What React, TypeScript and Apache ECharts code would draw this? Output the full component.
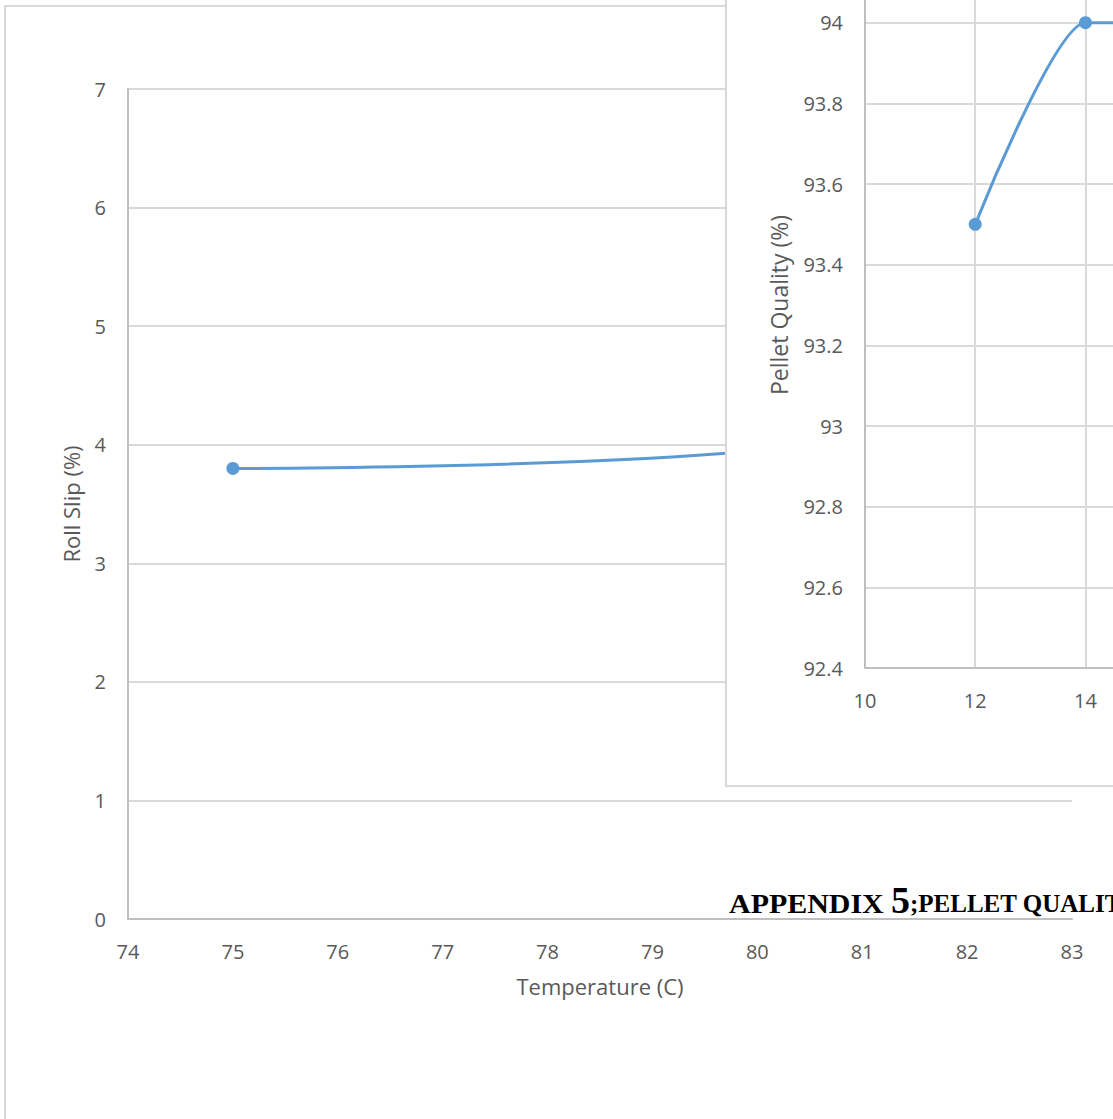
import React, { useEffect, useRef } from "react";
import * as echarts from "echarts";

// Main chart: Roll Slip vs Temperature
const tempTicks = [74, 75, 76, 77, 78, 79, 80, 81, 82, 83];
const rollSlipX = [75, 80, 82];
const rollSlipY = [3.8, 3.95, 5.0];

// Inset chart: Pellet Quality (only the part up to x≈14.5 is in view)
const pqX = [12, 14, 16, 18];
const pqY = [93.5, 94.0, 94.0, 93.7];

const FONT = "'Open Sans', sans-serif";
const SERIF = "'Liberation Serif', serif";
const LABEL = "#595959";
const GRID = "#d9d9d9";
const AXIS = "#bfbfbf";
const BLUE = "#5b9bd5";

// the canvas is larger than the viewport and shifted, so the inset can run off the top edge
const OFF = 100;

export default function App() {
  const ref = useRef<HTMLDivElement>(null);
  useEffect(() => {
    if (!ref.current) return;
    const chart = echarts.init(ref.current, undefined, { renderer: "svg" });
    const fmt = (v: number) => String(Number(v.toFixed(1)));
    chart.setOption({
      animation: false,
      backgroundColor: "#ffffff",
      grid: [
        { left: 128, top: 89 + OFF, width: 944, height: 830 },
        { left: 865, top: -58 + OFF, width: 250, height: 726 },
      ],
      xAxis: [
        {
          type: "value",
          gridIndex: 0,
          min: tempTicks[0],
          max: tempTicks[tempTicks.length - 1],
          interval: 1,
          name: "Temperature (C)",
          nameLocation: "middle",
          nameGap: 56,
          nameTextStyle: { fontFamily: FONT, fontSize: 22, color: LABEL },
          axisLine: { show: true, lineStyle: { color: AXIS, width: 2 } },
          axisTick: { show: false },
          axisLabel: { fontFamily: FONT, fontSize: 20, color: LABEL, margin: 22 },
          splitLine: { show: false },
          z: 1,
        },
        {
          type: "value",
          gridIndex: 1,
          min: 10,
          max: 14.5,
          interval: 2,
          axisLine: { show: true, lineStyle: { color: AXIS, width: 2 } },
          axisTick: { show: false },
          axisLabel: {
            fontFamily: FONT,
            fontSize: 20,
            color: LABEL,
            margin: 22,
            showMaxLabel: false,
          },
          splitLine: { show: true, showMaxLine: false, lineStyle: { color: GRID, width: 2 } },
          z: 6,
        },
      ],
      yAxis: [
        {
          type: "value",
          gridIndex: 0,
          min: 0,
          max: 7,
          interval: 1,
          name: "Roll Slip (%)",
          nameLocation: "middle",
          nameGap: 46,
          nameTextStyle: { fontFamily: FONT, fontSize: 22, color: LABEL },
          axisLine: { show: true, lineStyle: { color: AXIS, width: 2 } },
          axisTick: { show: false },
          axisLabel: { fontFamily: FONT, fontSize: 20, color: LABEL, margin: 22 },
          splitLine: { show: true, lineStyle: { color: GRID, width: 2 } },
          z: 1,
        },
        {
          type: "value",
          gridIndex: 1,
          min: 92.4,
          max: 94.2,
          interval: 0.2,
          name: "Pellet Quality (%)",
          nameLocation: "middle",
          nameGap: 75,
          nameTextStyle: { fontFamily: FONT, fontSize: 23, color: LABEL },
          axisLine: { show: true, lineStyle: { color: AXIS, width: 2 } },
          axisTick: { show: false },
          axisLabel: {
            fontFamily: FONT,
            fontSize: 20,
            color: LABEL,
            margin: 22,
            formatter: fmt,
            showMaxLabel: false,
          },
          splitLine: { show: true, lineStyle: { color: GRID, width: 2 } },
          z: 6,
        },
      ],
      graphic: [
        {
          type: "rect",
          z: 0,
          shape: { x: 5, y: 6 + OFF, width: 1400, height: 1300 },
          style: { fill: "none", stroke: GRID, lineWidth: 2 },
        },
        {
          type: "rect",
          z: 5,
          shape: { x: 726, y: -20 + OFF, width: 800, height: 806 },
          style: { fill: "#ffffff", stroke: GRID, lineWidth: 2 },
        },
        {
          type: "text",
          z: 20,
          x: 729,
          y: 917 + OFF,
          scaleX: 1.07,
          style: {
            text: "APPENDIX",
            fontFamily: SERIF,
            fontWeight: "bold",
            fontSize: 28,
            fill: "#000",
            verticalAlign: "bottom",
          },
        },
        {
          type: "text",
          z: 20,
          x: 891,
          y: 919 + OFF,
          style: {
            text: "5",
            fontFamily: SERIF,
            fontWeight: "bold",
            fontSize: 38,
            fill: "#000",
            verticalAlign: "bottom",
          },
        },
        {
          type: "text",
          z: 20,
          x: 910,
          y: 916 + OFF,
          style: {
            text: ";PELLET QUALITY",
            fontFamily: SERIF,
            fontWeight: "bold",
            fontSize: 25,
            fill: "#000",
            verticalAlign: "bottom",
          },
        },
      ],
      series: [
        {
          type: "line",
          xAxisIndex: 0,
          yAxisIndex: 0,
          data: rollSlipX.map((x, i) => [x, rollSlipY[i]]),
          smooth: 0.4,
          symbol: "circle",
          symbolSize: 13,
          itemStyle: { color: BLUE },
          lineStyle: { color: BLUE, width: 3 },
          z: 2,
        },
        {
          type: "line",
          xAxisIndex: 1,
          yAxisIndex: 1,
          data: pqX.map((x, i) => [x, pqY[i]]),
          smooth: 0.2,
          symbol: "circle",
          symbolSize: 13,
          itemStyle: { color: BLUE },
          lineStyle: { color: BLUE, width: 3 },
          z: 8,
        },
      ],
    });
    return () => chart.dispose();
  }, []);
  return (
    <div
      style={{
        position: "absolute",
        left: 0,
        top: 0,
        width: 1113,
        height: 1119,
        overflow: "hidden",
        background: "#fff",
      }}
    >
      <div
        ref={ref}
        style={{ position: "absolute", left: 0, top: -OFF, width: 1113, height: 1119 + OFF }}
      />
    </div>
  );
}
